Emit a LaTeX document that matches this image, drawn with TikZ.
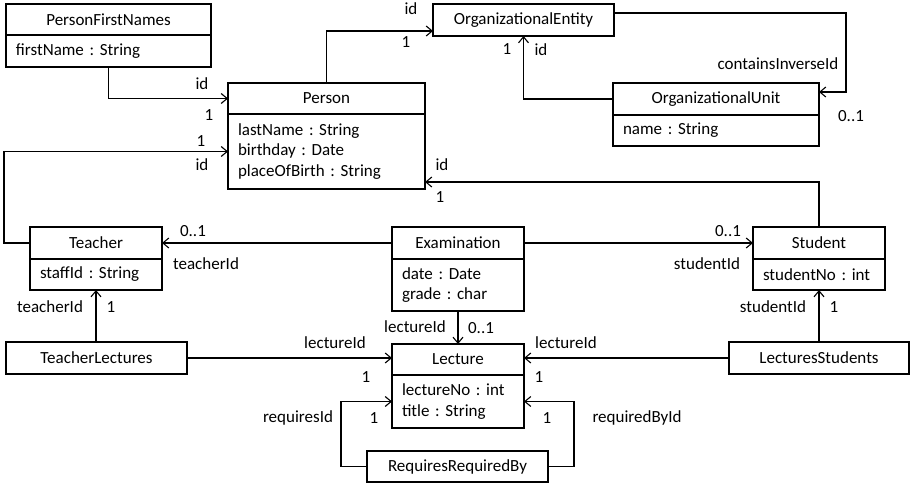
\documentclass[tikz,border=0pt]{standalone}
\usepackage{fontspec}
\setmainfont{Carlito}
\usetikzlibrary{arrows.meta}
\frenchspacing
\begin{document}
\begin{tikzpicture}[x=1pt,y=-1pt,line width=1.1pt,
  font=\fontsize{17}{20.5}\selectfont,
  hdr/.style={draw, inner sep=0pt, outer sep=0pt, anchor=north west, align=center},
  attrs/.style={draw, inner xsep=10pt, inner ysep=0pt, outer sep=0pt, anchor=north west, align=left},
  arr/.style={-{Straight Barb[length=6pt,width=10pt,line width=1.1pt]}},
  lbl/.style={inner sep=0pt}
]
\useasboundingbox (0,0) rectangle (910,484);

% classes: header compartment + attribute compartment
\node[hdr, minimum width=205pt, minimum height=31pt] (pfn) at (6,4) {PersonFirstNames};
\node[attrs, minimum width=205pt, minimum height=32pt, text width=185pt] (pfnB) at (pfn.south west) {firstName : String};

\node[hdr, minimum width=197pt, minimum height=31pt] (person) at (228,83) {Person};
\node[attrs, minimum width=197pt, minimum height=75pt, text width=177pt] (personB) at (person.south west) {lastName : String\\birthday : Date\\placeOfBirth : String};

\node[hdr, minimum width=181pt, minimum height=32pt] (oe) at (433,4) {OrganizationalEntity};

\node[hdr, minimum width=206pt, minimum height=32pt] (ou) at (613,83) {OrganizationalUnit};
\node[attrs, minimum width=206pt, minimum height=31pt, text width=186pt] (ouB) at (ou.south west) {name : String};

\node[hdr, minimum width=132pt, minimum height=32pt] (teacher) at (30,227) {Teacher};
\node[attrs, minimum width=132pt, minimum height=31pt, text width=112pt] (teacherB) at (teacher.south west) {staffId : String};

\node[hdr, minimum width=132pt, minimum height=32pt] (exam) at (392,227) {Examination};
\node[attrs, minimum width=132pt, minimum height=52pt, text width=112pt] (examB) at (exam.south west) {date : Date\\grade : char};

\node[hdr, minimum width=132pt, minimum height=32pt] (student) at (753,227) {Student};
\node[attrs, minimum width=132pt, minimum height=31pt, text width=112pt] (studentB) at (student.south west) {studentNo : int};

\node[hdr, minimum width=181pt, minimum height=32pt] (tl) at (6,342) {TeacherLectures};

\node[hdr, minimum width=132pt, minimum height=31pt] (lecture) at (392,344) {Lecture};
\node[attrs, minimum width=132pt, minimum height=53pt, text width=112pt] (lectureB) at (lecture.south west) {lectureNo : int\\title : String};

\node[hdr, minimum width=180pt, minimum height=32pt] (ls) at (729,342) {LecturesStudents};

\node[hdr, minimum width=181pt, minimum height=31pt] (rrb) at (367,451) {RequiresRequiredBy};

% associations
\draw[arr] (pfnB.south) |- (person.west);
\draw[arr] (person.north) |- ([yshift=-11pt]oe.west);
\draw[arr] ([yshift=7pt]oe.east) -- ++(232,0) |- ([yshift=7pt]ou.east);
\draw[arr] (ou.west) -| (oe.south);
\draw[arr] (teacher.west) -- ++(-26,0) |- (personB.west);
\draw[arr] (student.north) |- ([yshift=-30.5pt]personB.east);
\draw[arr] (exam.west) -- (teacher.east);
\draw[arr] (exam.east) -- (student.west);
\draw[arr] (examB.south) -- (lecture.north);
\draw[arr] (tl.north -| teacherB.south) -- (teacherB.south);
\draw[arr] (tl.east) -- (tl.east -| lecture.west);
\draw[arr] (ls.west) -- (ls.west -| lecture.east);
\draw[arr] (ls.north) -- (studentB.south);
\draw[arr] (rrb.west) -- ++(-26,0) |- (lectureB.west);
\draw[arr] (rrb.east) -- ++(26,0) |- (lectureB.east);

% role names and multiplicities
\node[lbl] (l1) at (202,84) {id};
\node[lbl] (l2) at (209,115) {1};
\node[lbl] (l3) at (411,9) {id};
\node[lbl] (l4) at (406,42) {1};
\node[lbl] (l5) at (201,141) {1};
\node[lbl] (l6) at (202,165) {id};
\node[lbl] (l7) at (442,165) {id};
\node[lbl] (l8) at (440,197) {1};
\node[lbl] (l9) at (507,49) {1};
\node[lbl] (l10) at (541,50) {id};
\node[lbl] (l11) at (778,64) {containsInverseId};
\node[lbl] (l12) at (851,116) {0..1};
\node[lbl] (l13) at (193,231) {0..1};
\node[lbl] (l14) at (206,264) {teacherId};
\node[lbl] (l15) at (50,307) {teacherId};
\node[lbl] (l16) at (111,307) {1};
\node[lbl] (l17) at (415,327) {lectureId};
\node[lbl] (l18) at (481,328) {0..1};
\node[lbl] (l19) at (335,343) {lectureId};
\node[lbl] (l20) at (366,377) {1};
\node[lbl] (l21) at (566,343) {lectureId};
\node[lbl] (l22) at (539,377) {1};
\node[lbl] (l23) at (728,231) {0..1};
\node[lbl] (l24) at (707,264) {studentId};
\node[lbl] (l25) at (773,307) {studentId};
\node[lbl] (l26) at (834,307) {1};
\node[lbl] (l27) at (298,418) {requiresId};
\node[lbl] (l28) at (374,418) {1};
\node[lbl] (l29) at (547,418) {1};
\node[lbl] (l30) at (637,418) {requiredById};
\end{tikzpicture}
\end{document}
